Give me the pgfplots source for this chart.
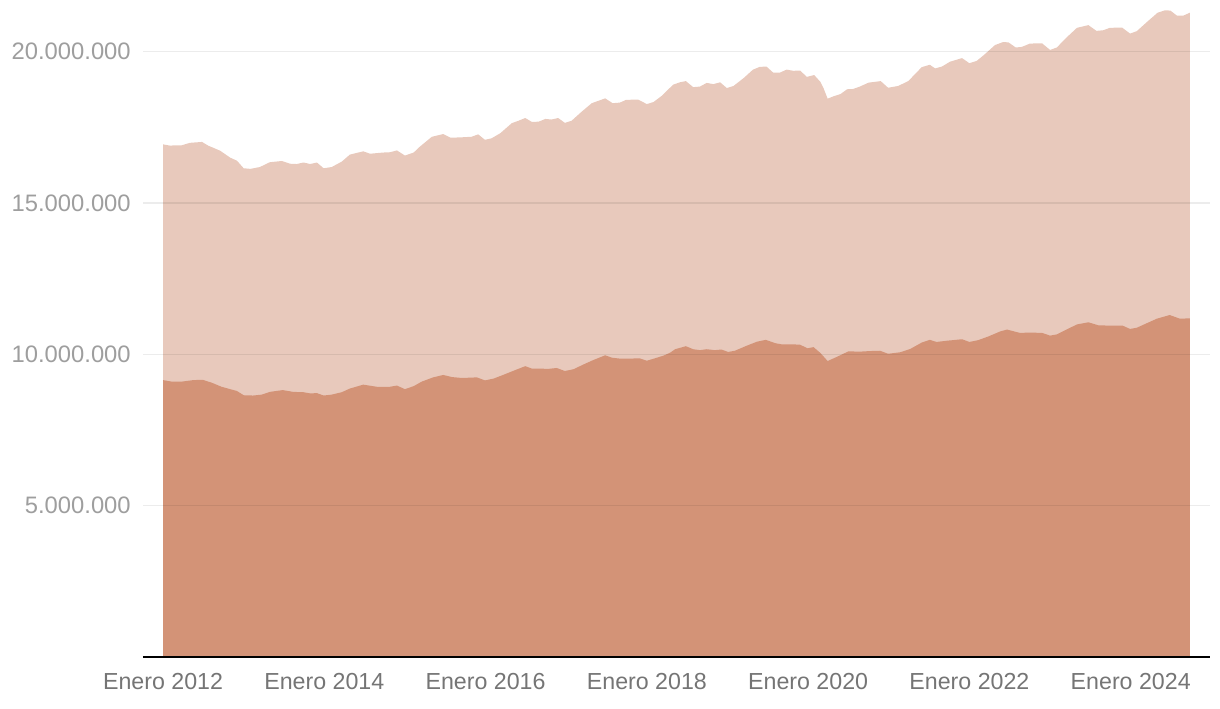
\documentclass[border=0pt]{standalone}
\usepackage{pgfplots}
\pgfplotsset{compat=1.18}
\usepackage{fontspec}
\setmainfont{Liberation Sans}
\definecolor{topc}{RGB}{232,201,188}
\definecolor{botc}{RGB}{211,147,119}
\definecolor{ylab}{RGB}{158,158,158}
\definecolor{xlab}{RGB}{117,117,117}
\pgfplotstableread{
m v
0 16.94
1.0 16.90
2.8 16.91
4.0 16.99
5.8 17.02
6.7 16.90
8.5 16.73
10.0 16.50
11.0 16.40
12.0 16.15
13.0 16.13
14.4 16.19
15.9 16.35
17.7 16.39
18.9 16.30
19.9 16.29
20.9 16.34
21.9 16.29
22.9 16.34
23.9 16.15
25.1 16.19
26.6 16.37
27.8 16.60
29.8 16.71
30.8 16.63
32.8 16.67
33.8 16.68
34.8 16.74
36.0 16.57
37.3 16.67
38.2 16.86
40.0 17.19
41.7 17.28
42.8 17.16
44.2 17.17
45.9 17.19
46.9 17.27
47.9 17.09
48.9 17.14
50.2 17.31
51.9 17.64
52.9 17.72
53.9 17.81
54.9 17.68
55.9 17.69
56.9 17.78
57.8 17.76
58.8 17.81
59.8 17.65
60.8 17.72
62.3 18.02
63.8 18.30
65.8 18.46
66.9 18.30
68.0 18.32
68.9 18.41
70.7 18.42
72.0 18.27
73.0 18.34
74.2 18.54
75.9 18.91
76.9 18.99
77.8 19.03
78.9 18.83
79.9 18.85
80.9 18.97
81.9 18.93
82.9 18.99
83.9 18.80
84.9 18.87
86.4 19.13
87.8 19.41
88.8 19.50
89.8 19.51
90.8 19.31
91.8 19.31
92.8 19.41
93.8 19.37
94.8 19.38
95.8 19.17
96.9 19.23
97.8 19.01
98.3 18.79
98.9 18.45
99.8 18.53
100.8 18.60
101.8 18.76
102.7 18.77
103.7 18.85
105.0 18.98
106.8 19.03
107.9 18.81
109.4 18.87
110.9 19.03
112.9 19.49
114.1 19.57
114.9 19.45
115.9 19.51
117.1 19.67
118.9 19.79
120.0 19.62
121.1 19.70
122.3 19.92
123.8 20.22
125.0 20.32
125.8 20.31
126.9 20.14
127.8 20.16
129.0 20.27
130.8 20.28
132.0 20.06
133.0 20.14
134.5 20.48
136.0 20.79
137.7 20.88
138.9 20.69
139.9 20.71
140.9 20.79
142.7 20.80
143.9 20.60
144.9 20.68
146.4 20.98
148.0 21.29
149.1 21.37
149.9 21.36
150.9 21.19
151.8 21.19
152.8 21.29
}\toptable
\pgfplotstableread{
m v
0 9.15
1.3 9.10
2.8 9.10
4.5 9.15
5.9 9.16
7.3 9.06
8.7 8.93
10.0 8.85
11.0 8.79
12.0 8.65
13.4 8.64
14.7 8.67
15.9 8.76
17.8 8.82
19.4 8.76
20.9 8.75
21.9 8.71
22.9 8.72
23.9 8.64
25.1 8.67
26.6 8.75
27.8 8.87
29.8 9.00
31.8 8.93
33.8 8.93
34.8 8.97
36.0 8.85
37.3 8.95
38.5 9.10
40.2 9.24
41.7 9.32
43.0 9.25
44.5 9.22
46.7 9.24
47.9 9.14
49.2 9.20
50.6 9.32
52.4 9.48
53.9 9.61
54.9 9.53
56.1 9.53
57.3 9.52
58.6 9.55
59.8 9.45
61.1 9.51
62.5 9.66
64.0 9.81
65.8 9.97
66.8 9.89
68.0 9.86
69.5 9.86
70.9 9.87
72.0 9.79
73.2 9.87
74.5 9.96
75.5 10.06
76.2 10.17
77.8 10.27
78.9 10.17
79.9 10.14
80.9 10.17
82.1 10.14
83.1 10.16
84.1 10.08
85.1 10.12
86.9 10.29
88.4 10.42
89.7 10.48
91.1 10.37
92.1 10.33
93.8 10.33
94.8 10.32
95.9 10.20
96.8 10.24
97.8 10.05
98.9 9.78
100.3 9.92
102.0 10.10
103.7 10.09
105.2 10.11
106.7 10.12
107.9 10.02
109.7 10.07
111.2 10.18
112.9 10.39
114.1 10.48
115.1 10.41
116.6 10.45
118.9 10.50
120.0 10.41
121.3 10.47
122.8 10.59
124.6 10.76
125.6 10.82
127.5 10.71
129.0 10.72
130.8 10.71
132.0 10.62
133.0 10.66
136.0 10.99
137.7 11.06
139.2 10.96
140.9 10.95
142.8 10.95
143.9 10.84
144.9 10.88
147.9 11.18
149.8 11.30
151.3 11.18
152.8 11.19
}\bottable
\begin{document}
\begin{tikzpicture}
\begin{axis}[
  name=ax,
  scale only axis,
  width=533.5pt, height=328.5pt,
  xmin=-2.98, xmax=155.8,
  ymin=0, ymax=21.71,
  axis on top,
  axis x line=bottom,
  axis y line=left,
  x axis line style={-, black, line width=1pt},
  y axis line style={draw=none},
  xtick={0,24,48,72,96,120,144},
  xticklabels={Enero 2012,Enero 2014,Enero 2016,Enero 2018,Enero 2020,Enero 2022,Enero 2024},
  ytick={5,10,15,20},
  yticklabels={5.000.000,10.000.000,15.000.000,20.000.000},
  major tick length=0pt,
  ymajorgrids,
  grid style={black, opacity=0.075, line width=0.6pt},
  xticklabel style={font=\fontsize{11.6}{14}\selectfont, text=xlab, yshift=-4.5pt},
  yticklabel style={font=\fontsize{11.9}{14}\selectfont, text=ylab, xshift=-2.6pt},
  clip=false,
]
\addplot[fill=topc, draw=none] table[x=m, y=v] {\toptable} \closedcycle;
\addplot[fill=botc, draw=none] table[x=m, y=v] {\bottable} \closedcycle;
\end{axis}
\path (ax.south west) ++(-71.5pt,-25.5pt) rectangle ++(610pt,354pt);
\end{tikzpicture}
\end{document}
